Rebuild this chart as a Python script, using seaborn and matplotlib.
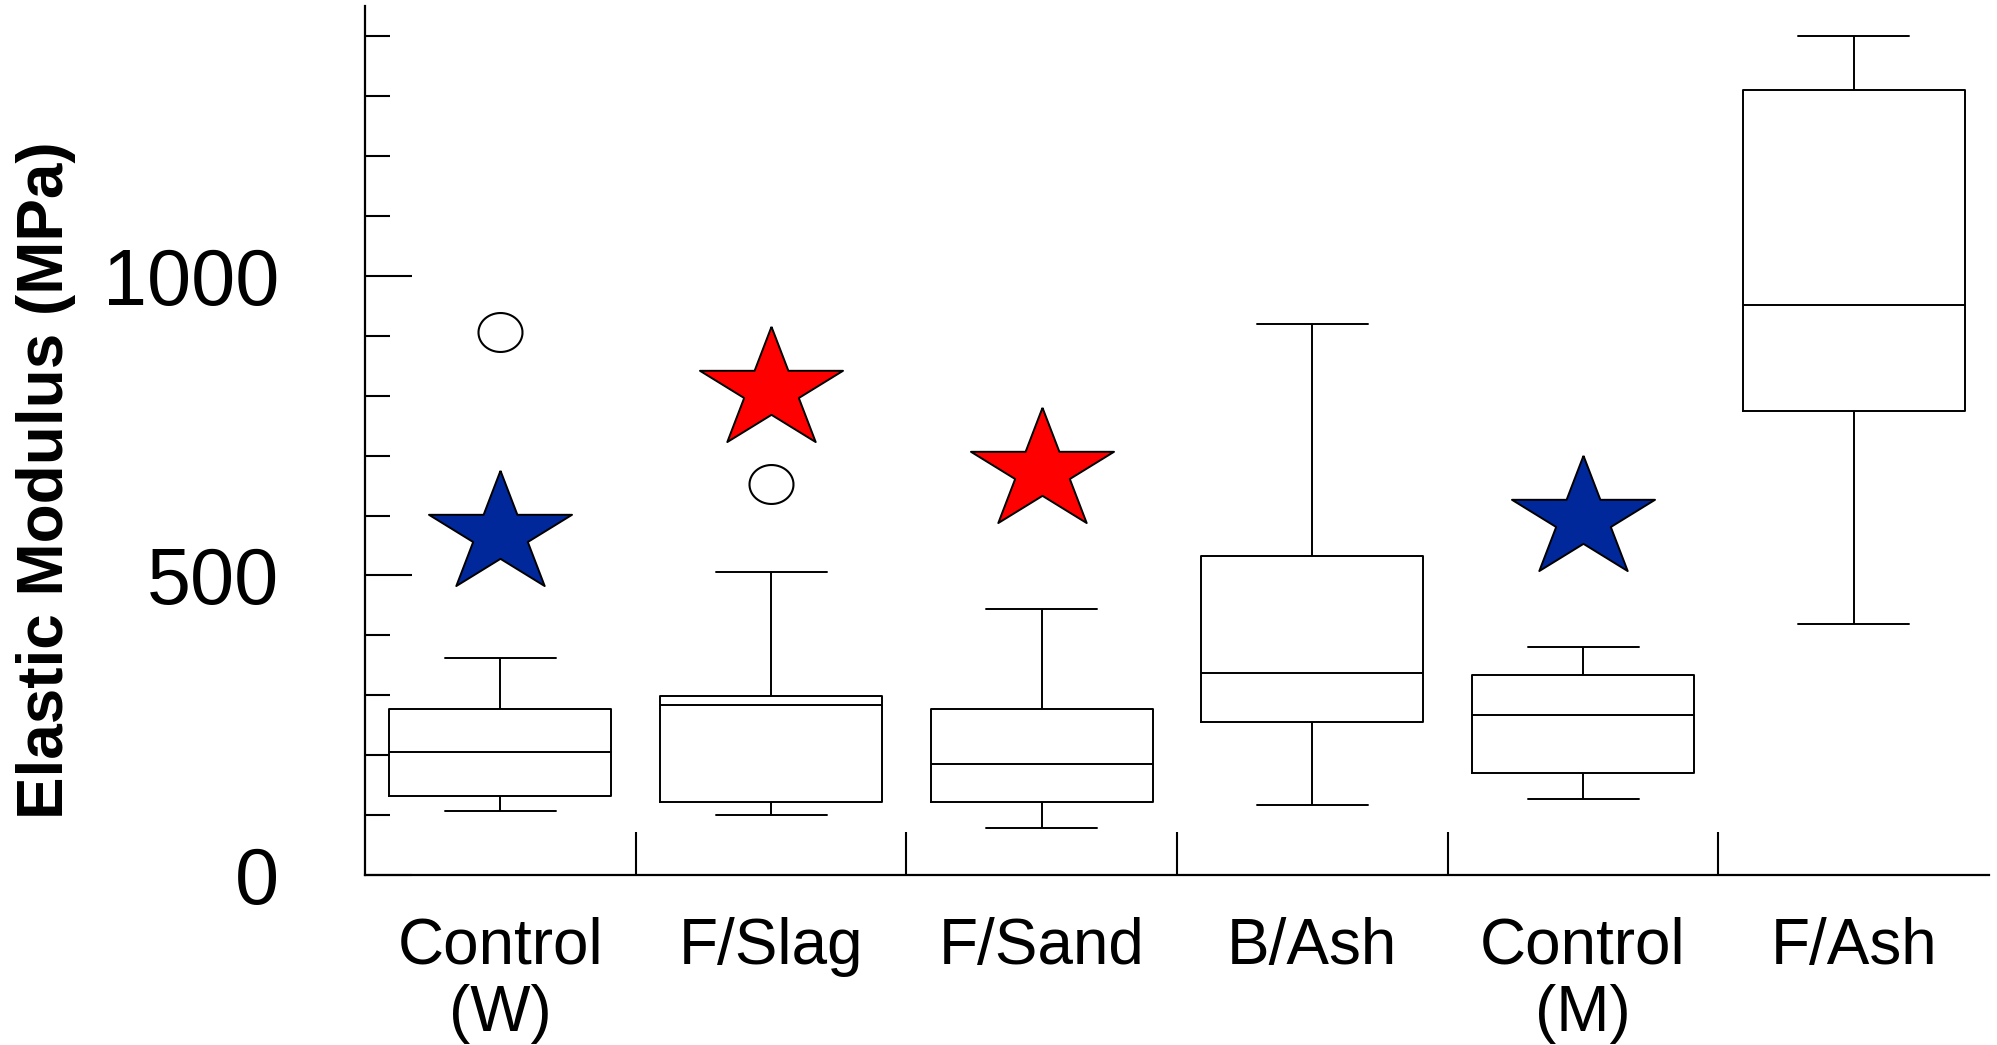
import numpy as np
import pandas as pd
import matplotlib
import matplotlib.pyplot as plt
import seaborn as sns

matplotlib.use("agg")

# box summaries (MPa)
categories = ["Control\n(W)", "F/Slag", "F/Sand", "B/Ash", "Control\n(M)", "F/Ash"]
whisker_low = [106, 100, 78, 116, 127, 419]
q1 = [132, 121, 121, 256, 171, 775]
median = [205, 284, 185, 338, 267, 952]
q3 = [277, 298, 277, 533, 334, 1310]
whisker_high = [362, 505, 444, 920, 380, 1400]

outlier_cats = ["Control\n(W)", "F/Slag"]
outlier_vals = [906, 653]

star_cats = ["Control\n(W)", "F/Slag", "F/Sand", "Control\n(M)"]
star_vals = [569, 809, 675, 595]
star_colors = ["#00289A", "#FF0000", "#FF0000", "#00289A"]

sns.set_style("white")
plt.rcParams["font.family"] = ["Liberation Sans", "DejaVu Sans"]
plt.rcParams["text.color"] = "black"
plt.rcParams["axes.labelcolor"] = "black"
plt.rcParams["xtick.color"] = "black"
plt.rcParams["ytick.color"] = "black"

# five values per group -> whis=(0, 100) gives exactly these quartiles/whiskers
rows = []
for cat, a, b, c, d, e in zip(categories, whisker_low, q1, median, q3, whisker_high):
    for v in (a, b, c, d, e):
        rows.append({"group": cat, "value": v})
box_df = pd.DataFrame(rows)

fig = plt.figure(figsize=(19.97, 10.45), dpi=100)
ax = fig.add_axes([0.1828, 0.1627, 0.996 - 0.1828, 0.9939 - 0.1627])

sns.boxplot(data=box_df, x="group", y="value", order=categories, whis=(0, 100),
            width=0.82, fill=False, color="black", linewidth=1.4,
            showfliers=False, ax=ax)

# slightly wide star / ellipse shapes (the original figure is stretched sideways)
ang = np.pi / 2 + np.arange(10) * np.pi / 5
rad = np.where(np.arange(10) % 2 == 0, 1.0, 0.381966)
star_verts = list(zip(1.18 * rad * np.cos(ang), rad * np.sin(ang)))
star_verts.append(star_verts[0])
t = np.linspace(0, 2 * np.pi, 60)
ellipse_verts = list(zip(1.13 * np.cos(t), np.sin(t)))

sns.stripplot(x=outlier_cats, y=outlier_vals, order=categories, jitter=False,
              marker=ellipse_verts, size=31.7, color="white",
              edgecolor="black", linewidth=1.5, ax=ax, zorder=5)

sns.stripplot(x=star_cats, y=star_vals, order=categories, hue=star_colors,
              palette={c: c for c in set(star_colors)}, jitter=False,
              marker=star_verts, size=103, edgecolor="black", linewidth=1.4,
              legend=False, ax=ax, zorder=5)

ax.set_xlim(-0.5, 5.5)
ax.set_ylim(0, 1450)

# y axis: labelled majors every 500, inward minor ticks every 100
ax.set_yticks([0, 500, 1000])
ax.set_yticks(np.arange(100, 1401, 100), minor=True)
ax.tick_params(axis="y", which="major", direction="in", length=34, width=1.5,
               pad=62, labelsize=57, left=True)
ax.tick_params(axis="y", which="minor", direction="in", length=18, width=1.5, left=True)

# x axis: separators between groups, labels at group centres
ax.set_xticks(np.arange(0.5, 5, 1.0))
ax.set_xticklabels([])
ax.set_xticks(np.arange(len(categories)), categories, minor=True)
ax.tick_params(axis="x", which="major", direction="in", length=31, width=1.5, bottom=True)
ax.tick_params(axis="x", which="minor", length=0, pad=30, labelsize=46)
for lab in ax.get_xticklabels(minor=True):
    lab.set_linespacing(1.15)

for side in ("top", "right"):
    ax.spines[side].set_visible(False)
for side in ("left", "bottom"):
    ax.spines[side].set_linewidth(1.6)
    ax.spines[side].set_color("black")

ax.set_xlabel("")
ax.set_ylabel("Elastic Modulus (MPa)", fontsize=46, fontweight="bold")
ax.yaxis.set_label_coords(-0.178, 0.4545)

fig.savefig("out.png", dpi=100, facecolor="white")
